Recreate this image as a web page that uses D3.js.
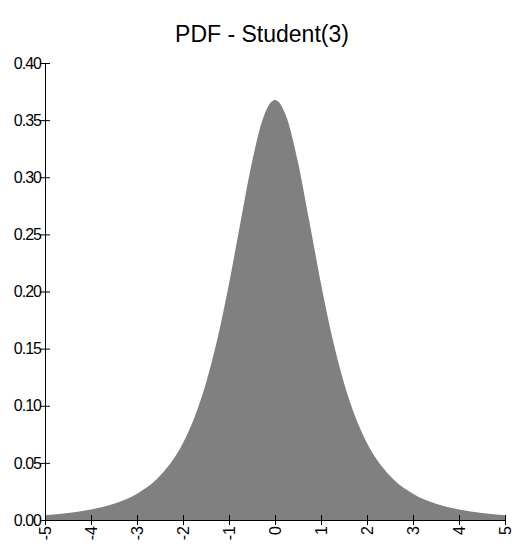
<!DOCTYPE html>
<html><head><meta charset="utf-8">
<script src="https://cdn.jsdelivr.net/npm/d3@7"></script>
<style>body{margin:0;background:#fff}text{font-family:"Liberation Sans",Arial,sans-serif}</style>
</head><body>
<script>
// density values
var xs=[-5,-4.5,-4,-3.5,-3,-2.5,-2,-1.75,-1.5,-1.25,-1,-0.75,-0.5,-0.25,0,0.25,0.5,0.75,1,1.25,1.5,1.75,2,2.5,3,3.5,4,4.5,5];
var ys=[0.0042,0.0061,0.0092,0.0142,0.0230,0.0387,0.0675,0.0900,0.1200,0.1589,0.2068,0.2607,0.3132,0.3528,0.3676,0.3528,0.3132,0.2607,0.2068,0.1589,0.1200,0.0900,0.0675,0.0387,0.0230,0.0142,0.0092,0.0061,0.0042];
var xTicks=[-5,-4,-3,-2,-1,0,1,2,3,4,5];
var yTicks=[0,0.05,0.10,0.15,0.20,0.25,0.30,0.35,0.40];

var svg=d3.select("body").append("svg").attr("width",518).attr("height",548);
var x=d3.scaleLinear().domain([-5,5]).range([45,505]);
var y=d3.scaleLinear().domain([0,0.4]).range([520,63]);
var data=xs.map(function(d,i){return {x:d,y:ys[i]};});

svg.append("text").attr("x",262).attr("y",42).attr("text-anchor","middle")
  .attr("font-size",23).text("PDF - Student(3)");

svg.append("path").datum(data).attr("fill","#808080")
  .attr("d",d3.area().curve(d3.curveMonotoneX).x(function(d){return x(d.x)}).y0(y(0)).y1(function(d){return y(d.y)}));

var ya=svg.append("g").attr("transform","translate(45,0)")
  .call(d3.axisLeft(y).tickValues(yTicks).tickFormat(d3.format(".2f")).tickSize(10).tickSizeOuter(0));
ya.selectAll(".tick line").attr("x2",-5).attr("x1",5);
ya.selectAll(".tick text").attr("x",-4).style("font-size","16px").attr("letter-spacing",-1);

var xa=svg.append("g").attr("transform","translate(0,520)")
  .call(d3.axisBottom(x).tickValues(xTicks).tickFormat(function(d){return String(d);}).tickSize(5).tickSizeOuter(0));
xa.selectAll(".tick line").attr("y1",-5).attr("y2",5);
xa.selectAll(".tick text").attr("transform","rotate(-90)").attr("x",-6).attr("y",0)
  .attr("dy","0.35em").attr("text-anchor","end").style("font-size","16px");
svg.selectAll(".domain").attr("stroke","#000");
svg.selectAll("g text").attr("fill","#000").attr("font-family","Liberation Sans, Arial, sans-serif");
</script>
</body></html>
